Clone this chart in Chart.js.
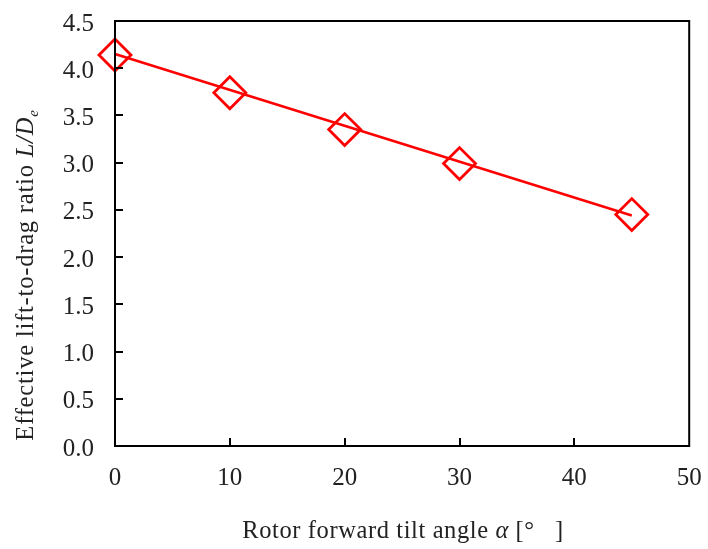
<!DOCTYPE html>
<html>
<head>
<meta charset="utf-8">
<script src="https://cdn.jsdelivr.net/npm/chart.js@4"></script>
<style>
  html, body { margin: 0; padding: 0; background: #fff; }
  #wrap { width: 708px; height: 549px; }
</style>
</head>
<body>
<div id="wrap"><canvas id="chart" width="708" height="549"></canvas></div>
<script>
// data
const tiltAngles = [0, 10, 20, 30, 45];
const liftToDrag = [4.14, 3.74, 3.35, 2.99, 2.45];
// straight fit line drawn in the figure (start / end)
const fitAngles = [0, 45];
const fitValues = [4.15, 2.44];

const xTicks = [0, 10, 20, 30, 40, 50];
const yTicks = [0, 0.5, 1, 1.5, 2, 2.5, 3, 3.5, 4, 4.5];

const serif = '"Liberation Serif", "Times New Roman", serif';
const textColor = '#222222';
const red = '#ff0000';

// inward ticks, frame and the mixed-style axis titles
const framePlugin = {
    id: 'frame',
    afterDraw(chart) {
        const ctx = chart.ctx;
        const area = chart.chartArea;
        const xs = chart.scales.x;
        const ys = chart.scales.y;
        ctx.save();
        ctx.strokeStyle = '#000';
        ctx.lineWidth = 2;
        ctx.strokeRect(area.left, area.top, area.right - area.left, area.bottom - area.top);

        ctx.beginPath();
        yTicks.forEach(v => {
            if (v === 0 || v === 4.5) return;
            const y = Math.round(ys.getPixelForValue(v));
            ctx.moveTo(area.left, y);
            ctx.lineTo(area.left + 8, y);
        });
        xTicks.forEach(v => {
            if (v === 0 || v === 50) return;
            const x = Math.round(xs.getPixelForValue(v));
            ctx.moveTo(x, area.bottom);
            ctx.lineTo(x, area.bottom - 8);
        });
        ctx.stroke();

        ctx.fillStyle = textColor;
        ctx.textBaseline = 'alphabetic';

        // x title
        ctx.letterSpacing = '0.6px';
        const parts = [
            { t: 'Rotor forward tilt angle ', f: '24.5px ' + serif },
            { t: 'α', f: 'italic 24.5px ' + serif },
            { t: ' [°   ]', f: '24.5px ' + serif }
        ];
        let total = 0;
        parts.forEach(p => { ctx.font = p.f; p.w = ctx.measureText(p.t).width; total += p.w; });
        let cx = 403 - total / 2;
        parts.forEach(p => { ctx.font = p.f; ctx.fillText(p.t, cx, 538); cx += p.w; });

        // y title, rotated
        ctx.letterSpacing = '0.8px';
        const yparts = [
            { t: 'Effective lift-to-drag ratio ', f: '24.5px ' + serif, dy: 0 },
            { t: 'L/D', f: 'italic 24.5px ' + serif, dy: 0 },
            { t: 'e', f: 'italic 15px ' + serif, dy: 5 }
        ];
        let ytotal = 0;
        yparts.forEach(p => { ctx.font = p.f; p.w = ctx.measureText(p.t).width; ytotal += p.w; });
        ctx.translate(33, 275);
        ctx.rotate(-Math.PI / 2);
        let cy = -ytotal / 2;
        yparts.forEach(p => { ctx.font = p.f; ctx.fillText(p.t, cy, p.dy); cy += p.w; });
        ctx.restore();
    }
};

new Chart(document.getElementById('chart'), {
    type: 'scatter',
    data: {
        datasets: [
            {
                label: 'fit',
                data: fitAngles.map((x, i) => ({ x: x, y: fitValues[i] })),
                showLine: true,
                borderColor: red,
                borderWidth: 2.5,
                pointRadius: 0,
                fill: false,
                clip: false
            },
            {
                label: 'L/De',
                data: tiltAngles.map((x, i) => ({ x: x, y: liftToDrag[i] })),
                showLine: false,
                pointStyle: 'rectRot',
                pointRadius: 16,
                pointBorderColor: red,
                pointBackgroundColor: 'rgba(0,0,0,0)',
                pointBorderWidth: 2.8,
                clip: false
            }
        ]
    },
    options: {
        responsive: false,
        animation: false,
        events: [],
        layout: { padding: { left: 0, top: 21, right: 16, bottom: 0 } },
        plugins: {
            legend: { display: false },
            tooltip: { enabled: false }
        },
        scales: {
            x: {
                type: 'linear',
                min: 0,
                max: 50,
                afterFit: s => { s.height = 103; s.paddingLeft = 0; s.paddingRight = 0; },
                afterBuildTicks: s => { s.ticks = xTicks.map(v => ({ value: v })); },
                grid: { display: false, drawTicks: false },
                border: { display: false },
                ticks: {
                    padding: 17,
                    color: textColor,
                    font: { family: serif, size: 25 },
                    maxRotation: 0
                }
            },
            y: {
                type: 'linear',
                min: 0,
                max: 4.5,
                afterFit: s => { s.width = 115; s.paddingTop = 0; s.paddingBottom = 0; },
                afterBuildTicks: s => { s.ticks = yTicks.map(v => ({ value: v })); },
                grid: { display: false, drawTicks: false },
                border: { display: false },
                ticks: {
                    padding: 21,
                    labelOffset: 3,
                    color: textColor,
                    font: { family: serif, size: 25 },
                    callback: v => v.toFixed(1)
                }
            }
        }
    },
    plugins: [framePlugin]
});
</script>
</body>
</html>
